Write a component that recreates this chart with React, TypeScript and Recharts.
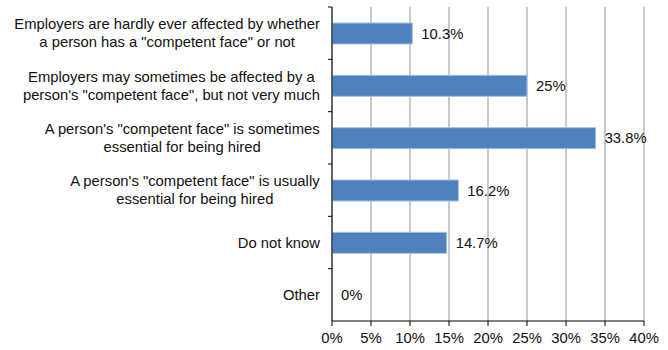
import { Bar, BarChart, CartesianGrid, Cell, LabelList, XAxis, YAxis } from 'recharts';

const categories = [
  'Employers are hardly ever affected by whether\na person has a "competent face" or not',
  'Employers may sometimes be affected by a\nperson\'s "competent face", but not very much',
  'A person\'s "competent face" is sometimes\nessential for being hired',
  'A person\'s "competent face" is usually\nessential for being hired',
  'Do not know',
  'Other',
];
const shares = [10.3, 25, 33.8, 16.2, 14.7, 0];
const xTicks = [0, 5, 10, 15, 20, 25, 30, 35, 40];

const data = categories.map((name, i) => ({ name, value: shares[i] }));

const FONT = '"Liberation Sans", Arial, Helvetica, sans-serif';
const FS = 14.8;

let ctx: CanvasRenderingContext2D | null = null;
function textWidth(s: string) {
  if (!ctx) ctx = document.createElement('canvas').getContext('2d');
  if (!ctx) return s.length * 7;
  ctx.font = `${FS}px "Liberation Sans"`;
  return ctx.measureText(s).width;
}

interface TickProps {
  x?: number;
  y?: number;
  payload?: { value: string };
}

const BAND = 314 / 6;

function CategoryTick({ x = 0, y = 0, payload }: TickProps) {
  const lines = (payload?.value ?? '').split('\n');
  const w = Math.max(...lines.map(textWidth));
  const cx = x - 12 - w / 2;
  const top = y - ((lines.length - 1) * 18) / 2;
  return (
    <g>
      <line x1={x - 4} x2={x} y1={y - BAND / 2} y2={y - BAND / 2} stroke="#000" />
      <text textAnchor="middle" fontSize={FS} fontFamily={FONT} fill="#111">
        {lines.map((l, i) => (
          <tspan key={i} x={cx} y={top + i * 18} dy="0.36em">
            {l}
          </tspan>
        ))}
      </text>
    </g>
  );
}

export default function App() {
  return (
    <div style={{ position: 'absolute', left: 0, top: 0, width: 668, height: 350, background: '#fff' }}>
      <BarChart
        width={668}
        height={350}
        data={data}
        layout="vertical"
        margin={{ top: 7, right: 24, bottom: 0, left: 0 }}
      >
        <CartesianGrid horizontal={false} stroke="#b8b8b8" strokeWidth={1.5} />
        <XAxis
          type="number"
          domain={[0, 40]}
          ticks={xTicks}
          interval={0}
          height={29}
          tickSize={5}
          tickMargin={6}
          tickFormatter={(v: number) => `${v}%`}
          axisLine={{ stroke: '#000' }}
          tickLine={{ stroke: '#000' }}
          tick={{ fill: '#111', fontSize: FS, fontFamily: FONT }}
        />
        <YAxis
          type="category"
          dataKey="name"
          width={332}
          tickSize={0}
          tickMargin={0}
          tickLine={false}
          axisLine={{ stroke: '#000' }}
          tick={<CategoryTick />}
          interval={0}
        />
        <Bar
          dataKey="value"
          fill="#4f81bd"
          strokeWidth={1}
          barSize={21}
          minPointSize={0.01}
          isAnimationActive={false}
        >
          {data.map((d, i) => (
            <Cell key={i} stroke={d.value > 0 ? '#a9c0e2' : 'none'} />
          ))}
          <LabelList
            dataKey="value"
            position="right"
            offset={9}
            formatter={(v: number) => `${v}%`}
            style={{ fill: '#111', fontSize: FS, fontFamily: FONT }}
          />
        </Bar>
      </BarChart>
    </div>
  );
}
